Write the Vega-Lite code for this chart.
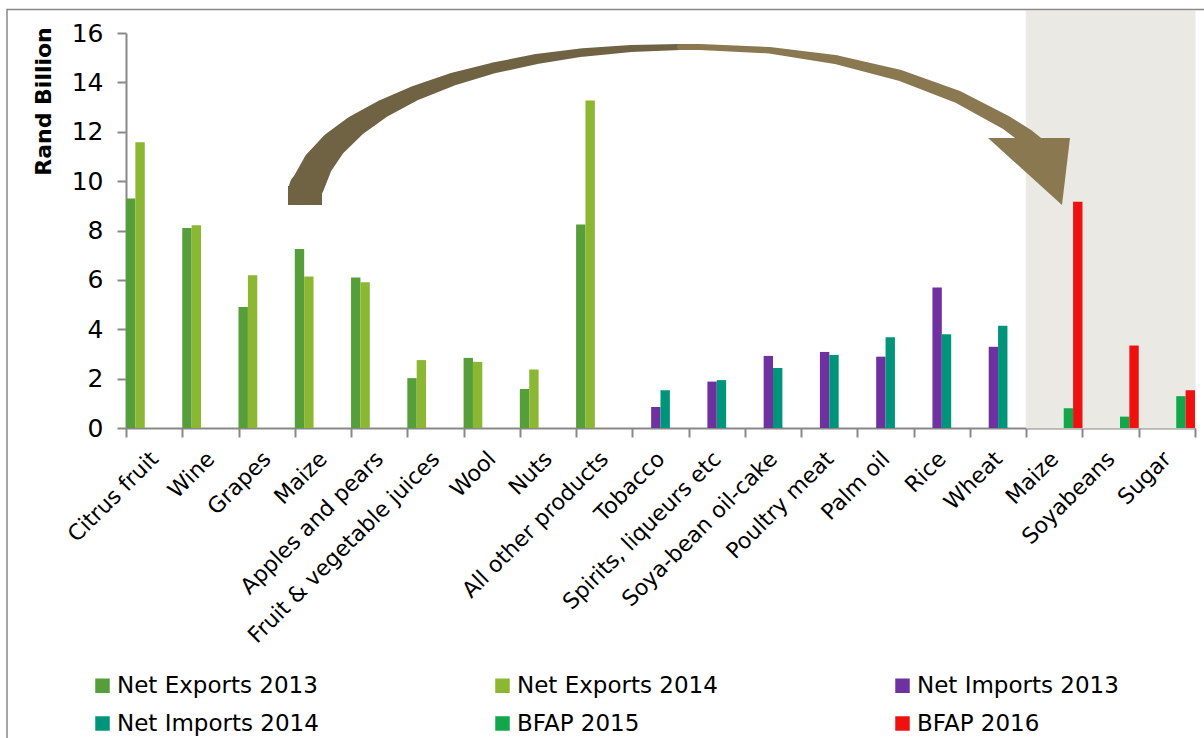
{
  "$schema": "https://vega.github.io/schema/vega-lite/v6.json",
  "width": 1069,
  "height": 395,
  "autosize": {"type": "none"},
  "padding": {"left": 126, "top": 33, "right": 9, "bottom": 310},
  "background": "white",
  "config": {"view": {"stroke": null}, "font": "DejaVu Sans"},
  "datasets": {
    "trade": [
      {"cat": "Citrus fruit", "series": "Net Exports 2013", "value": 9.3},
      {"cat": "Citrus fruit", "series": "Net Exports 2014", "value": 11.57},
      {"cat": "Wine", "series": "Net Exports 2013", "value": 8.1},
      {"cat": "Wine", "series": "Net Exports 2014", "value": 8.21},
      {"cat": "Grapes", "series": "Net Exports 2013", "value": 4.9},
      {"cat": "Grapes", "series": "Net Exports 2014", "value": 6.19},
      {"cat": "Maize", "series": "Net Exports 2013", "value": 7.25},
      {"cat": "Maize", "series": "Net Exports 2014", "value": 6.14},
      {"cat": "Apples and pears", "series": "Net Exports 2013", "value": 6.1},
      {"cat": "Apples and pears", "series": "Net Exports 2014", "value": 5.9},
      {"cat": "Fruit & vegetable juices", "series": "Net Exports 2013", "value": 2.02},
      {"cat": "Fruit & vegetable juices", "series": "Net Exports 2014", "value": 2.75},
      {"cat": "Wool", "series": "Net Exports 2013", "value": 2.84},
      {"cat": "Wool", "series": "Net Exports 2014", "value": 2.68},
      {"cat": "Nuts", "series": "Net Exports 2013", "value": 1.58},
      {"cat": "Nuts", "series": "Net Exports 2014", "value": 2.37},
      {"cat": "All other products", "series": "Net Exports 2013", "value": 8.24},
      {"cat": "All other products", "series": "Net Exports 2014", "value": 13.27},
      {"cat": "Tobacco", "series": "Net Imports 2013", "value": 0.85},
      {"cat": "Tobacco", "series": "Net Imports 2014", "value": 1.53},
      {"cat": "Spirits, liqueurs etc", "series": "Net Imports 2013", "value": 1.88},
      {"cat": "Spirits, liqueurs etc", "series": "Net Imports 2014", "value": 1.94},
      {"cat": "Soya-bean oil-cake", "series": "Net Imports 2013", "value": 2.92},
      {"cat": "Soya-bean oil-cake", "series": "Net Imports 2014", "value": 2.43},
      {"cat": "Poultry meat", "series": "Net Imports 2013", "value": 3.08},
      {"cat": "Poultry meat", "series": "Net Imports 2014", "value": 2.96},
      {"cat": "Palm oil", "series": "Net Imports 2013", "value": 2.89},
      {"cat": "Palm oil", "series": "Net Imports 2014", "value": 3.68},
      {"cat": "Rice", "series": "Net Imports 2013", "value": 5.69},
      {"cat": "Rice", "series": "Net Imports 2014", "value": 3.8},
      {"cat": "Wheat", "series": "Net Imports 2013", "value": 3.29},
      {"cat": "Wheat", "series": "Net Imports 2014", "value": 4.14},
      {"cat": "Maize (BFAP)", "series": "BFAP 2015", "value": 0.8},
      {"cat": "Maize (BFAP)", "series": "BFAP 2016", "value": 9.16},
      {"cat": "Soyabeans", "series": "BFAP 2015", "value": 0.46},
      {"cat": "Soyabeans", "series": "BFAP 2016", "value": 3.34},
      {"cat": "Sugar", "series": "BFAP 2015", "value": 1.29},
      {"cat": "Sugar", "series": "BFAP 2016", "value": 1.53}
    ],
    "arrow": [
      {"part": "a", "seq": 1, "u": 3.199, "v": 9.722, "w": 34},
      {"part": "a", "seq": 2, "u": 3.238, "v": 9.867, "w": 33},
      {"part": "a", "seq": 3, "u": 3.409, "v": 10.69, "w": 30},
      {"part": "a", "seq": 4, "u": 3.688, "v": 11.484, "w": 26},
      {"part": "a", "seq": 5, "u": 4.075, "v": 12.233, "w": 22},
      {"part": "a", "seq": 6, "u": 4.559, "v": 12.93, "w": 18},
      {"part": "a", "seq": 7, "u": 5.133, "v": 13.557, "w": 15},
      {"part": "a", "seq": 8, "u": 5.789, "v": 14.113, "w": 13},
      {"part": "a", "seq": 9, "u": 6.514, "v": 14.574, "w": 11},
      {"part": "a", "seq": 10, "u": 7.296, "v": 14.947, "w": 10},
      {"part": "a", "seq": 11, "u": 8.121, "v": 15.214, "w": 8.5},
      {"part": "a", "seq": 12, "u": 8.977, "v": 15.376, "w": 7},
      {"part": "a", "seq": 13, "u": 9.846, "v": 15.433, "w": 6},
      {"part": "b", "seq": 13, "u": 9.846, "v": 15.433, "w": 6},
      {"part": "b", "seq": 14, "u": 10.202, "v": 15.433, "w": 6},
      {"part": "b", "seq": 15, "u": 11.437, "v": 15.303, "w": 6.5},
      {"part": "b", "seq": 16, "u": 12.634, "v": 14.915, "w": 9},
      {"part": "b", "seq": 17, "u": 13.757, "v": 14.282, "w": 11},
      {"part": "b", "seq": 18, "u": 14.772, "v": 13.424, "w": 12.5},
      {"part": "b", "seq": 19, "u": 15.648, "v": 12.367, "w": 14},
      {"part": "b", "seq": 20, "u": 16.026, "v": 11.771, "w": 16},
      {"part": "b", "seq": 21, "u": 16.231, "v": 11.394, "w": 16}
    ],
    "head": [
      {"u": 15.321, "vt": 11.747, "vb": 11.747},
      {"u": 16.636, "vt": 11.747, "vb": 9.033},
      {"u": 16.778, "vt": 11.747, "vb": 11.747}
    ],
    "base": [
      {"u1": 2.879, "u2": 3.484, "v1": 9.033, "v2": 9.803}
    ]
  },
  "layer": [
    {
      "data": {"values": [{"cat": "Maize (BFAP)"}, {"cat": "Soyabeans"}, {"cat": "Sugar"}]},
      "mark": {"type": "bar", "color": "#ebe9e4", "stroke": "#ebe9e4", "strokeWidth": 1},
      "encoding": {
        "x": {"field": "cat", "type": "nominal",
          "scale": {"domain": ["Citrus fruit","Wine","Grapes","Maize","Apples and pears","Fruit & vegetable juices","Wool","Nuts","All other products","Tobacco","Spirits, liqueurs etc","Soya-bean oil-cake","Poultry meat","Palm oil","Rice","Wheat","Maize (BFAP)","Soyabeans","Sugar"], "paddingInner": 0, "paddingOuter": 0},
          "axis": null},
        "y": {"datum": 16.89, "type": "quantitative", "scale": {"domain": [0, 16], "nice": false}, "axis": null},
        "y2": {"datum": 0}
      }
    },
    {
      "data": {"name": "trade"},
      "mark": {"type": "bar"},
      "encoding": {
        "x": {"field": "cat", "type": "nominal",
          "scale": {"domain": ["Citrus fruit","Wine","Grapes","Maize","Apples and pears","Fruit & vegetable juices","Wool","Nuts","All other products","Tobacco","Spirits, liqueurs etc","Soya-bean oil-cake","Poultry meat","Palm oil","Rice","Wheat","Maize (BFAP)","Soyabeans","Sugar"], "paddingInner": 0, "paddingOuter": 0},
          "axis": {"title": null, "orient": "bottom", "labelAngle": -45, "labelAlign": "right", "labelBaseline": "middle", "labelPadding": 18, "labelFontSize": 22, "labelFont": "DejaVu Sans", "labelColor": "black", "labelLimit": 400, "tickBand": "extent", "tickSize": 9, "tickColor": "#888888", "tickWidth": 2, "domainColor": "#888888", "domainWidth": 2,
            "labelExpr": "datum.value == 'Maize (BFAP)' ? 'Maize' : datum.value"}},
        "xOffset": {"field": "series", "type": "nominal",
          "scale": {"domain": ["Net Exports 2013","Net Exports 2014","Net Imports 2013","Net Imports 2014","BFAP 2015","BFAP 2016"], "paddingInner": 0, "paddingOuter": 0}},
        "y": {"field": "value", "type": "quantitative", "scale": {"domain": [0, 16], "nice": false},
          "axis": {"orient": "left", "values": [0,2,4,6,8,10,12,14,16], "title": "Rand Billion", "grid": false, "domainColor": "#888888", "tickColor": "#888888", "domainWidth": 2, "tickWidth": 2, "tickSize": 9, "labelFontSize": 25, "labelFont": "DejaVu Sans", "labelColor": "black", "labelPadding": 14,
            "titleFontSize": 22, "titleFont": "DejaVu Sans", "titleFontWeight": "bold", "titleColor": "black", "titleX": -83, "titleY": 68, "titleAngle": -90, "titleAlign": "center", "titleBaseline": "middle"}},
        "color": {"field": "series", "type": "nominal",
          "scale": {"domain": ["Net Exports 2013","Net Exports 2014","Net Imports 2013","Net Imports 2014","BFAP 2015","BFAP 2016"],
            "range": ["#559e3a","#8bb733","#7031a0","#00957a","#13a74b","#ef1010"]},
          "legend": {"title": null, "orient": "none", "legendX": -35, "legendY": 641, "columns": 3, "direction": "horizontal", "gridAlign": "all", "symbolType": "square", "symbolSize": 210, "symbolStrokeWidth": 0, "labelFontSize": 23, "labelFont": "DejaVu Sans", "labelColor": "black", "labelOffset": 3, "columnPadding": 172, "rowPadding": 14, "labelLimit": 400, "padding": 0}}
      }
    },
    {
      "data": {"name": "base"},
      "mark": {"type": "rect", "color": "#6f6344"},
      "encoding": {
        "x": {"field": "u1", "type": "quantitative", "scale": {"domain": [0, 19], "nice": false, "zero": false}, "axis": null},
        "x2": {"field": "u2"},
        "y": {"field": "v1", "type": "quantitative", "scale": {"domain": [0, 16], "nice": false}, "axis": null},
        "y2": {"field": "v2"}
      }
    },
    {
      "data": {"name": "arrow"},
      "transform": [{"filter": "datum.part == 'a'"}],
      "mark": {"type": "trail", "color": "#6f6344"},
      "encoding": {
        "x": {"field": "u", "type": "quantitative", "scale": {"domain": [0, 19], "nice": false, "zero": false}, "axis": null},
        "y": {"field": "v", "type": "quantitative", "scale": {"domain": [0, 16], "nice": false}, "axis": null},
        "size": {"field": "w", "type": "quantitative", "scale": null, "legend": null},
        "order": {"field": "seq", "type": "quantitative"}
      }
    },
    {
      "data": {"name": "arrow"},
      "transform": [{"filter": "datum.part == 'b'"}],
      "mark": {"type": "trail", "color": "#8a7851"},
      "encoding": {
        "x": {"field": "u", "type": "quantitative", "scale": {"domain": [0, 19], "nice": false, "zero": false}, "axis": null},
        "y": {"field": "v", "type": "quantitative", "scale": {"domain": [0, 16], "nice": false}, "axis": null},
        "size": {"field": "w", "type": "quantitative", "scale": null, "legend": null},
        "order": {"field": "seq", "type": "quantitative"}
      }
    },
    {
      "data": {"name": "head"},
      "mark": {"type": "area", "color": "#8a7851", "opacity": 1},
      "encoding": {
        "x": {"field": "u", "type": "quantitative", "scale": {"domain": [0, 19], "nice": false, "zero": false}, "axis": null},
        "y": {"field": "vt", "type": "quantitative", "scale": {"domain": [0, 16], "nice": false}, "axis": null},
        "y2": {"field": "vb"}
      }
    },
    {
      "data": {"values": [{}]},
      "mark": {"type": "rect", "filled": false, "stroke": "#888888", "strokeWidth": 1.5},
      "encoding": {
        "x": {"datum": -2.115, "type": "quantitative", "scale": {"domain": [0, 19], "nice": false, "zero": false}, "axis": null},
        "x2": {"datum": 20},
        "y": {"datum": 16.95, "type": "quantitative", "scale": {"domain": [0, 16], "nice": false}, "axis": null},
        "y2": {"datum": -15}
      }
    }
  ],
  "resolve": {"scale": {"x": "independent", "y": "independent"}, "axis": {"x": "independent", "y": "independent"}}
}
